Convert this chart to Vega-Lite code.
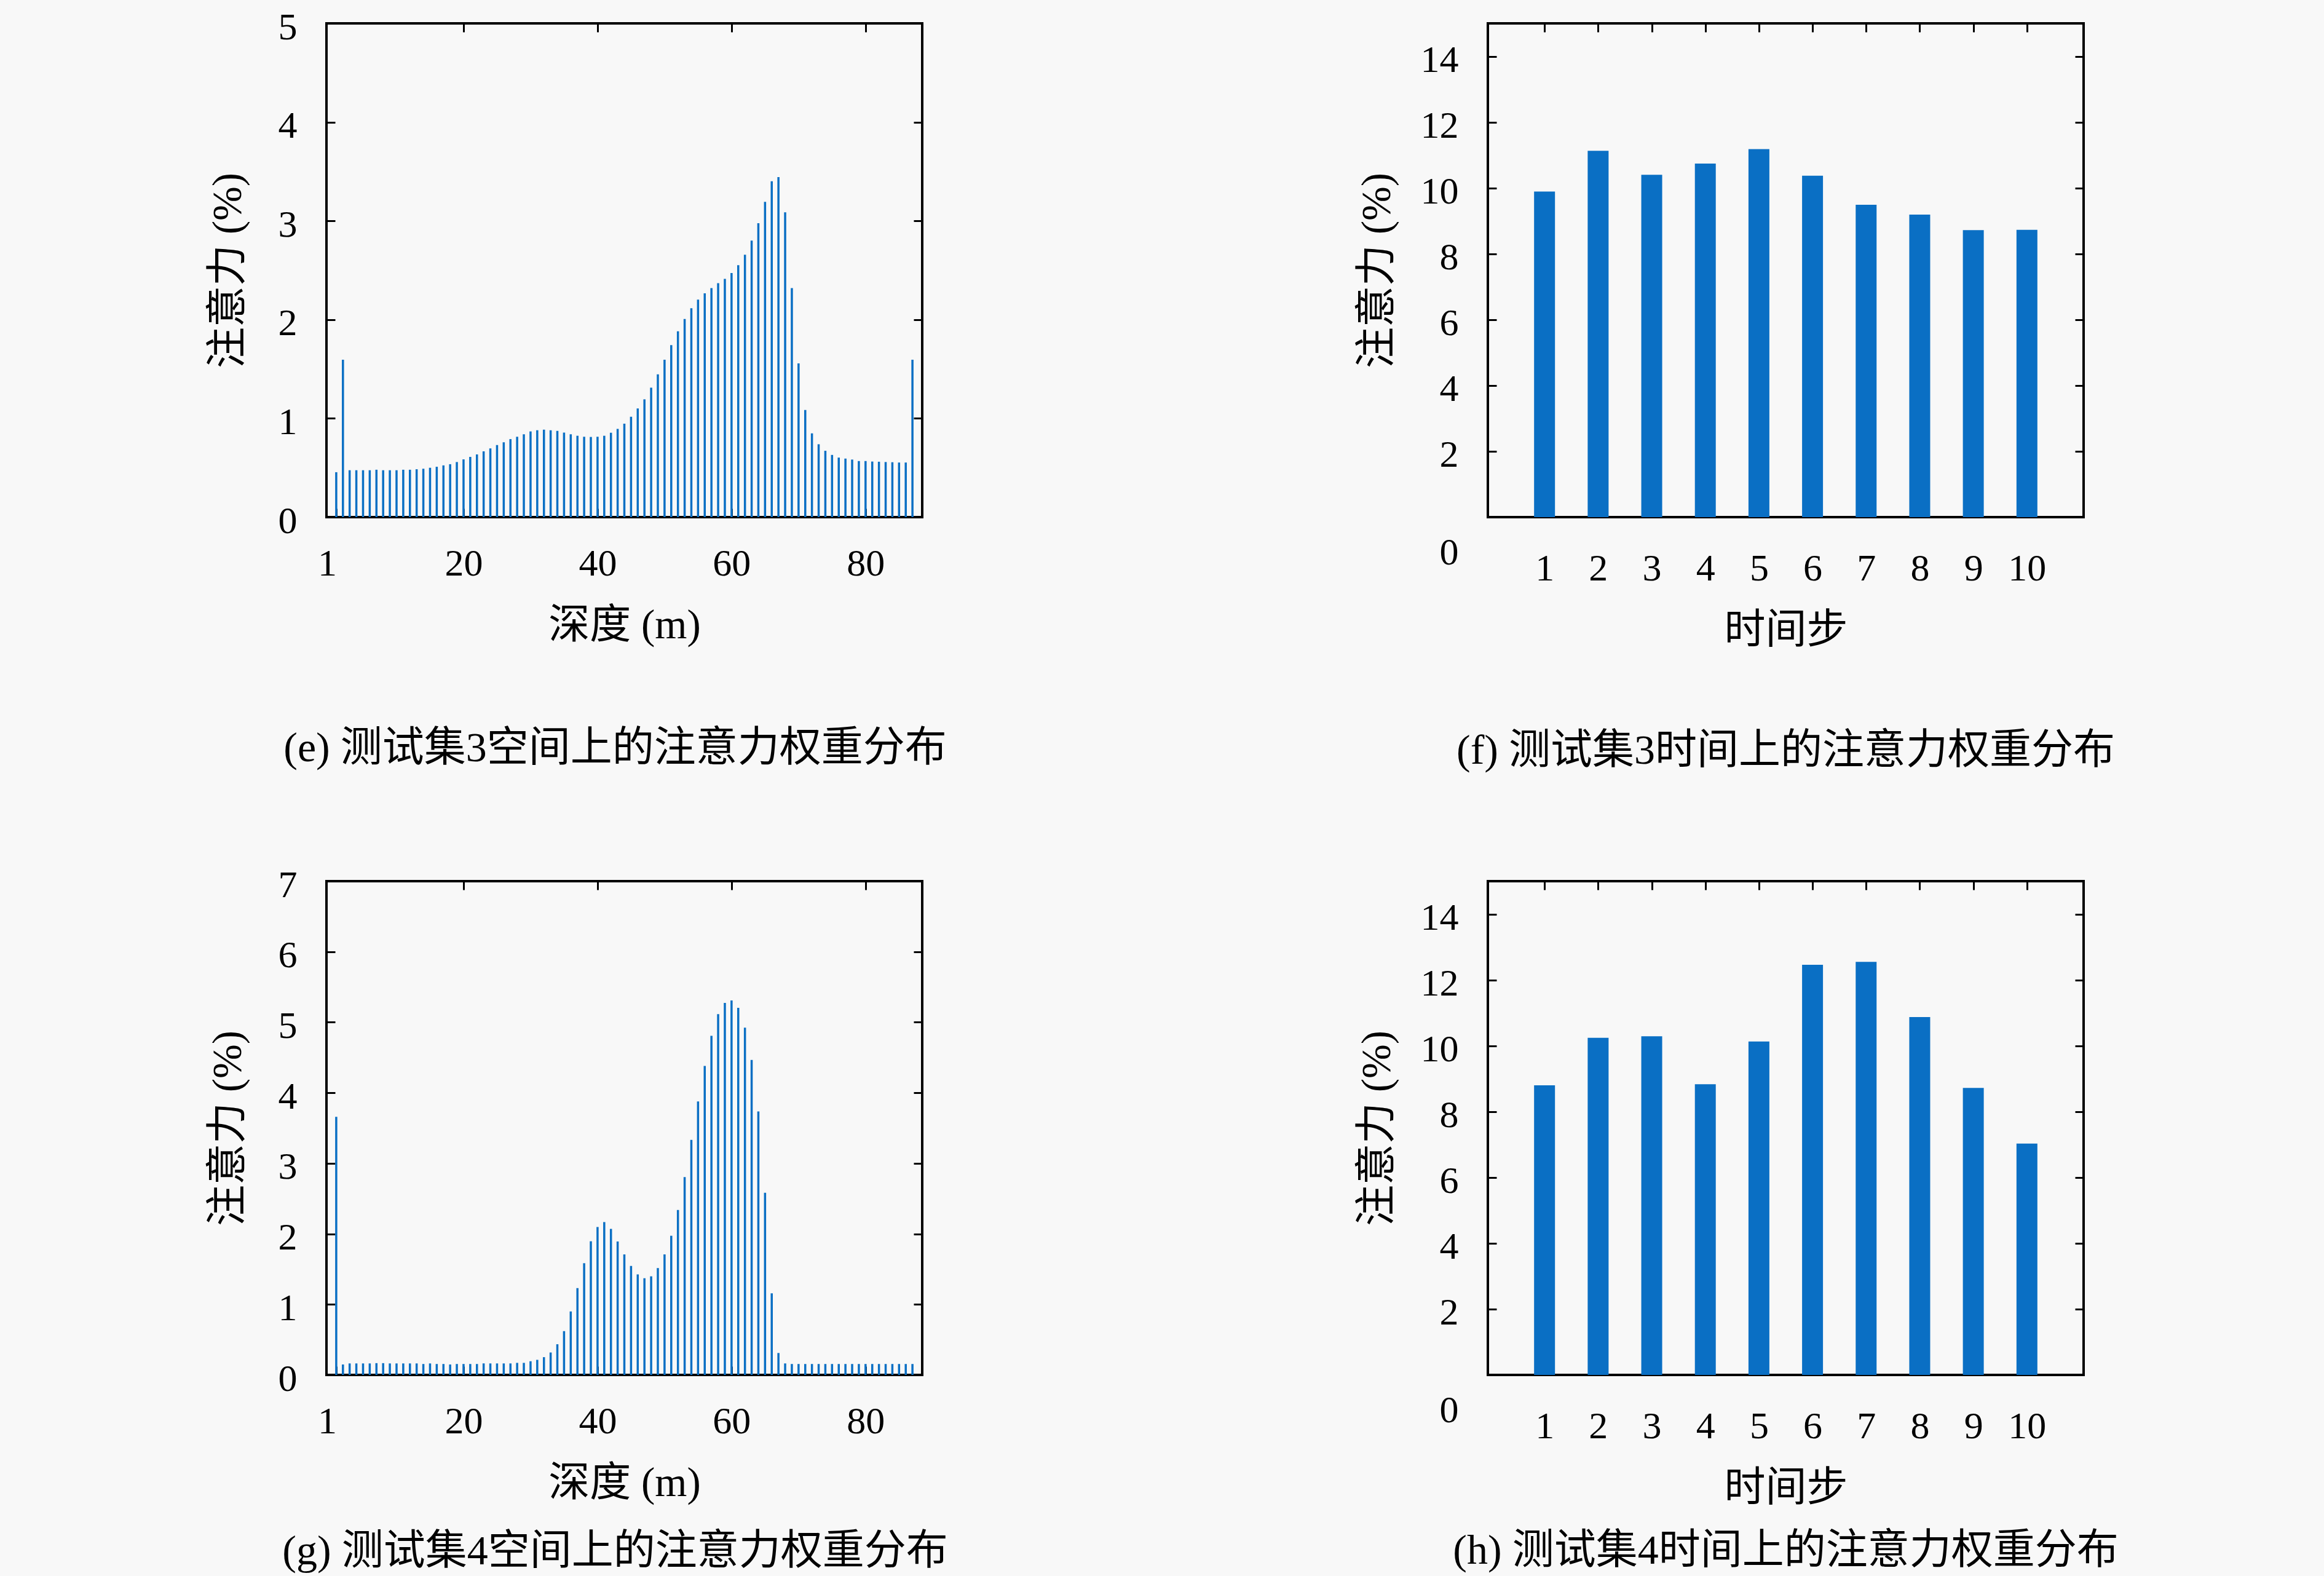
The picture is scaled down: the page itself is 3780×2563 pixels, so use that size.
{
  "$schema": "https://vega.github.io/schema/vega-lite/v6.json",
  "background": "#f8f8f8",
  "padding": {"left": 335, "top": 11, "right": 340, "bottom": 18},
  "config": {
    "view": {"stroke": "#000000", "strokeWidth": 4},
    "axis": {
      "domain": false,
      "grid": false,
      "labelFont": "Liberation Serif",
      "labelFontSize": 62,
      "labelColor": "#000000",
      "titleFont": "Liberation Serif, Noto Sans CJK SC",
      "titleFontSize": 67,
      "titleFontWeight": "normal",
      "titleColor": "#000000",
      "tickColor": "#000000",
      "tickWidth": 3,
      "tickSize": -14
    },
    "title": {
      "font": "Liberation Serif, Noto Sans CJK SC",
      "fontSize": 68,
      "fontWeight": "normal",
      "color": "#000000"
    }
  },
  "columns": 2,
  "bounds": "flush",
  "spacing": {"row": 592, "column": 920},
  "concat": [
    {
      "width": 969,
      "height": 803,
      "title": {"text": "(e) 测试集3空间上的注意力权重分布", "orient": "bottom", "frame": "group", "offset": 134, "dx": -15},
      "data": {
        "values": [
          {"depth": 1, "attn": 0.455}, {"depth": 2, "attn": 1.594}, {"depth": 3, "attn": 0.475}, {"depth": 4, "attn": 0.475},
          {"depth": 5, "attn": 0.475}, {"depth": 6, "attn": 0.475}, {"depth": 7, "attn": 0.48}, {"depth": 8, "attn": 0.475},
          {"depth": 9, "attn": 0.475}, {"depth": 10, "attn": 0.475}, {"depth": 11, "attn": 0.48}, {"depth": 12, "attn": 0.48},
          {"depth": 13, "attn": 0.485}, {"depth": 14, "attn": 0.49}, {"depth": 15, "attn": 0.5}, {"depth": 16, "attn": 0.51},
          {"depth": 17, "attn": 0.524}, {"depth": 18, "attn": 0.536}, {"depth": 19, "attn": 0.558}, {"depth": 20, "attn": 0.585},
          {"depth": 21, "attn": 0.61}, {"depth": 22, "attn": 0.635}, {"depth": 23, "attn": 0.667}, {"depth": 24, "attn": 0.696},
          {"depth": 25, "attn": 0.73}, {"depth": 26, "attn": 0.758}, {"depth": 27, "attn": 0.79}, {"depth": 28, "attn": 0.814},
          {"depth": 29, "attn": 0.839}, {"depth": 30, "attn": 0.868}, {"depth": 31, "attn": 0.88}, {"depth": 32, "attn": 0.886},
          {"depth": 33, "attn": 0.88}, {"depth": 34, "attn": 0.873}, {"depth": 35, "attn": 0.856}, {"depth": 36, "attn": 0.839},
          {"depth": 37, "attn": 0.824}, {"depth": 38, "attn": 0.814}, {"depth": 39, "attn": 0.812}, {"depth": 40, "attn": 0.814},
          {"depth": 41, "attn": 0.824}, {"depth": 42, "attn": 0.854}, {"depth": 43, "attn": 0.893}, {"depth": 44, "attn": 0.947},
          {"depth": 45, "attn": 1.016}, {"depth": 46, "attn": 1.1}, {"depth": 47, "attn": 1.193}, {"depth": 48, "attn": 1.311},
          {"depth": 49, "attn": 1.446}, {"depth": 50, "attn": 1.594}, {"depth": 51, "attn": 1.742}, {"depth": 52, "attn": 1.882},
          {"depth": 53, "attn": 2.007}, {"depth": 54, "attn": 2.116}, {"depth": 55, "attn": 2.202}, {"depth": 56, "attn": 2.266},
          {"depth": 57, "attn": 2.32}, {"depth": 58, "attn": 2.369}, {"depth": 59, "attn": 2.413}, {"depth": 60, "attn": 2.472},
          {"depth": 61, "attn": 2.551}, {"depth": 62, "attn": 2.657}, {"depth": 63, "attn": 2.8}, {"depth": 64, "attn": 2.977},
          {"depth": 65, "attn": 3.193}, {"depth": 66, "attn": 3.402}, {"depth": 67, "attn": 3.444}, {"depth": 68, "attn": 3.087},
          {"depth": 69, "attn": 2.32}, {"depth": 70, "attn": 1.557}, {"depth": 71, "attn": 1.085}, {"depth": 72, "attn": 0.849},
          {"depth": 73, "attn": 0.738}, {"depth": 74, "attn": 0.672}, {"depth": 75, "attn": 0.63}, {"depth": 76, "attn": 0.603},
          {"depth": 77, "attn": 0.593}, {"depth": 78, "attn": 0.583}, {"depth": 79, "attn": 0.568}, {"depth": 80, "attn": 0.568},
          {"depth": 81, "attn": 0.563}, {"depth": 82, "attn": 0.561}, {"depth": 83, "attn": 0.558}, {"depth": 84, "attn": 0.556},
          {"depth": 85, "attn": 0.553}, {"depth": 86, "attn": 0.553}, {"depth": 87, "attn": 1.594}
        ]
      },
      "layer": [
        {
          "mark": {"type": "bar", "size": 3.5, "color": "#0a6fc4"},
          "encoding": {
            "x": {"field": "depth", "type": "quantitative", "scale": {"domain": [0, 88], "nice": false},
                  "axis": {"values": [1, 20, 40, 60, 80], "title": "深度 (m)", "labelPadding": 59, "titlePadding": 37,
                           "labelOffset": {"condition": {"test": "datum.value == 1", "value": -15}, "value": 0}}},
            "y": {"field": "attn", "type": "quantitative", "scale": {"domain": [0, 5], "nice": false},
                  "axis": {"values": [0, 1, 2, 3, 4, 5], "title": "注意力 (%)", "labelPadding": 62, "labelOffset": 6, "titlePadding": 47}}
          }
        },
        {
          "mark": {"type": "bar", "size": 3.5, "opacity": 0},
          "encoding": {
            "x": {"field": "depth", "type": "quantitative", "axis": {"orient": "top", "values": [20, 40, 60, 80], "labels": false, "title": null}},
            "y": {"field": "attn", "type": "quantitative", "axis": {"orient": "right", "values": [1, 2, 3, 4], "labels": false, "title": null}}
          }
        }
      ],
      "resolve": {"axis": {"x": "independent", "y": "independent"}}
    },
    {
      "width": 969,
      "height": 803,
      "title": {"text": "(f) 测试集3时间上的注意力权重分布", "orient": "bottom", "frame": "group", "offset": 130},
      "data": {
        "values": [
          {"step": 1, "attn": 9.89}, {"step": 2, "attn": 11.13}, {"step": 3, "attn": 10.4}, {"step": 4, "attn": 10.74},
          {"step": 5, "attn": 11.18}, {"step": 6, "attn": 10.37}, {"step": 7, "attn": 9.49}, {"step": 8, "attn": 9.19},
          {"step": 9, "attn": 8.72}, {"step": 10, "attn": 8.73}
        ]
      },
      "layer": [
        {
          "mark": {"type": "bar", "size": 34, "color": "#0a6fc4"},
          "encoding": {
            "x": {"field": "step", "type": "quantitative", "scale": {"domain": [0, 11], "nice": false},
                  "axis": {"values": [1, 2, 3, 4, 5, 6, 7, 8, 9, 10], "title": "时间步", "labelPadding": 67, "titlePadding": 37}},
            "y": {"field": "attn", "type": "quantitative", "scale": {"domain": [0, 15], "nice": false},
                  "axis": {"values": [0, 2, 4, 6, 8, 10, 12, 14], "title": "注意力 (%)", "labelPadding": 62,
                           "labelOffset": {"condition": {"test": "datum.value == 0", "value": 57}, "value": 6}, "titlePadding": 36}}
          }
        },
        {
          "mark": {"type": "bar", "size": 34, "opacity": 0},
          "encoding": {
            "x": {"field": "step", "type": "quantitative", "axis": {"orient": "top", "values": [1, 2, 3, 4, 5, 6, 7, 8, 9, 10], "labels": false, "title": null}},
            "y": {"field": "attn", "type": "quantitative", "axis": {"orient": "right", "values": [2, 4, 6, 8, 10, 12, 14], "labels": false, "title": null}}
          }
        }
      ],
      "resolve": {"axis": {"x": "independent", "y": "independent"}}
    },
    {
      "width": 969,
      "height": 803,
      "title": {"text": "(g) 测试集4空间上的注意力权重分布", "orient": "bottom", "frame": "group", "offset": 45, "dx": -15},
      "data": {
        "values": [
          {"depth": 1, "attn": 3.66}, {"depth": 2, "attn": 0.148}, {"depth": 3, "attn": 0.163}, {"depth": 4, "attn": 0.163},
          {"depth": 5, "attn": 0.163}, {"depth": 6, "attn": 0.163}, {"depth": 7, "attn": 0.167}, {"depth": 8, "attn": 0.167},
          {"depth": 9, "attn": 0.163}, {"depth": 10, "attn": 0.163}, {"depth": 11, "attn": 0.163}, {"depth": 12, "attn": 0.163},
          {"depth": 13, "attn": 0.163}, {"depth": 14, "attn": 0.155}, {"depth": 15, "attn": 0.163}, {"depth": 16, "attn": 0.155},
          {"depth": 17, "attn": 0.155}, {"depth": 18, "attn": 0.148}, {"depth": 19, "attn": 0.155}, {"depth": 20, "attn": 0.155},
          {"depth": 21, "attn": 0.155}, {"depth": 22, "attn": 0.155}, {"depth": 23, "attn": 0.163}, {"depth": 24, "attn": 0.163},
          {"depth": 25, "attn": 0.163}, {"depth": 26, "attn": 0.163}, {"depth": 27, "attn": 0.163}, {"depth": 28, "attn": 0.171},
          {"depth": 29, "attn": 0.171}, {"depth": 30, "attn": 0.194}, {"depth": 31, "attn": 0.214}, {"depth": 32, "attn": 0.252},
          {"depth": 33, "attn": 0.318}, {"depth": 34, "attn": 0.435}, {"depth": 35, "attn": 0.621}, {"depth": 36, "attn": 0.9},
          {"depth": 37, "attn": 1.231}, {"depth": 38, "attn": 1.584}, {"depth": 39, "attn": 1.895}, {"depth": 40, "attn": 2.097},
          {"depth": 41, "attn": 2.167}, {"depth": 42, "attn": 2.07}, {"depth": 43, "attn": 1.891}, {"depth": 44, "attn": 1.709},
          {"depth": 45, "attn": 1.546}, {"depth": 46, "attn": 1.425}, {"depth": 47, "attn": 1.371}, {"depth": 48, "attn": 1.398},
          {"depth": 49, "attn": 1.515}, {"depth": 50, "attn": 1.709}, {"depth": 51, "attn": 1.973}, {"depth": 52, "attn": 2.338},
          {"depth": 53, "attn": 2.804}, {"depth": 54, "attn": 3.332}, {"depth": 55, "attn": 3.876}, {"depth": 56, "attn": 4.381},
          {"depth": 57, "attn": 4.808}, {"depth": 58, "attn": 5.115}, {"depth": 59, "attn": 5.274}, {"depth": 60, "attn": 5.309},
          {"depth": 61, "attn": 5.204}, {"depth": 62, "attn": 4.924}, {"depth": 63, "attn": 4.466}, {"depth": 64, "attn": 3.736},
          {"depth": 65, "attn": 2.583}, {"depth": 66, "attn": 1.157}, {"depth": 67, "attn": 0.311}, {"depth": 68, "attn": 0.163},
          {"depth": 69, "attn": 0.155}, {"depth": 70, "attn": 0.155}, {"depth": 71, "attn": 0.155}, {"depth": 72, "attn": 0.155},
          {"depth": 73, "attn": 0.155}, {"depth": 74, "attn": 0.155}, {"depth": 75, "attn": 0.155}, {"depth": 76, "attn": 0.155},
          {"depth": 77, "attn": 0.155}, {"depth": 78, "attn": 0.155}, {"depth": 79, "attn": 0.155}, {"depth": 80, "attn": 0.155},
          {"depth": 81, "attn": 0.155}, {"depth": 82, "attn": 0.155}, {"depth": 83, "attn": 0.155}, {"depth": 84, "attn": 0.155},
          {"depth": 85, "attn": 0.155}, {"depth": 86, "attn": 0.155}, {"depth": 87, "attn": 0.155}
        ]
      },
      "layer": [
        {
          "mark": {"type": "bar", "size": 3.5, "color": "#0a6fc4"},
          "encoding": {
            "x": {"field": "depth", "type": "quantitative", "scale": {"domain": [0, 88], "nice": false},
                  "axis": {"values": [1, 20, 40, 60, 80], "title": "深度 (m)", "labelPadding": 59, "titlePadding": 37,
                           "labelOffset": {"condition": {"test": "datum.value == 1", "value": -15}, "value": 0}}},
            "y": {"field": "attn", "type": "quantitative", "scale": {"domain": [0, 7], "nice": false},
                  "axis": {"values": [0, 1, 2, 3, 4, 5, 6, 7], "title": "注意力 (%)", "labelPadding": 62, "labelOffset": 6, "titlePadding": 47}}
          }
        },
        {
          "mark": {"type": "bar", "size": 3.5, "opacity": 0},
          "encoding": {
            "x": {"field": "depth", "type": "quantitative", "axis": {"orient": "top", "values": [20, 40, 60, 80], "labels": false, "title": null}},
            "y": {"field": "attn", "type": "quantitative", "axis": {"orient": "right", "values": [1, 2, 3, 4, 5, 6], "labels": false, "title": null}}
          }
        }
      ],
      "resolve": {"axis": {"x": "independent", "y": "independent"}}
    },
    {
      "width": 969,
      "height": 803,
      "title": {"text": "(h) 测试集4时间上的注意力权重分布", "orient": "bottom", "frame": "group", "offset": 36},
      "data": {
        "values": [
          {"step": 1, "attn": 8.8}, {"step": 2, "attn": 10.24}, {"step": 3, "attn": 10.29}, {"step": 4, "attn": 8.83},
          {"step": 5, "attn": 10.13}, {"step": 6, "attn": 12.46}, {"step": 7, "attn": 12.55}, {"step": 8, "attn": 10.87},
          {"step": 9, "attn": 8.72}, {"step": 10, "attn": 7.03}
        ]
      },
      "layer": [
        {
          "mark": {"type": "bar", "size": 34, "color": "#0a6fc4"},
          "encoding": {
            "x": {"field": "step", "type": "quantitative", "scale": {"domain": [0, 11], "nice": false},
                  "axis": {"values": [1, 2, 3, 4, 5, 6, 7, 8, 9, 10], "title": "时间步", "labelPadding": 67, "titlePadding": 37}},
            "y": {"field": "attn", "type": "quantitative", "scale": {"domain": [0, 15], "nice": false},
                  "axis": {"values": [0, 2, 4, 6, 8, 10, 12, 14], "title": "注意力 (%)", "labelPadding": 62,
                           "labelOffset": {"condition": {"test": "datum.value == 0", "value": 57}, "value": 6}, "titlePadding": 36}}
          }
        },
        {
          "mark": {"type": "bar", "size": 34, "opacity": 0},
          "encoding": {
            "x": {"field": "step", "type": "quantitative", "axis": {"orient": "top", "values": [1, 2, 3, 4, 5, 6, 7, 8, 9, 10], "labels": false, "title": null}},
            "y": {"field": "attn", "type": "quantitative", "axis": {"orient": "right", "values": [2, 4, 6, 8, 10, 12, 14], "labels": false, "title": null}}
          }
        }
      ],
      "resolve": {"axis": {"x": "independent", "y": "independent"}}
    }
  ]
}
